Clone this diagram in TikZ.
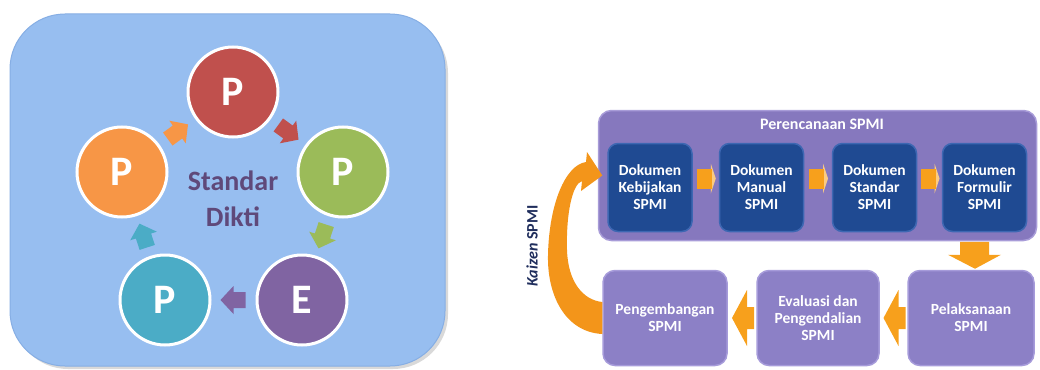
\documentclass[tikz,border=0pt]{standalone}
\usepackage{fontspec}
\setmainfont{Carlito}
\usetikzlibrary{calc}
\definecolor{panelbg}{HTML}{97BEF0}
\definecolor{panelborder}{HTML}{86AEE4}
\definecolor{cred}{HTML}{C0504D}
\definecolor{cgreen}{HTML}{9BBB59}
\definecolor{cpurple}{HTML}{8064A2}
\definecolor{cteal}{HTML}{4BACC6}
\definecolor{corange}{HTML}{F79646}
\definecolor{dikti}{HTML}{5F497A}
\definecolor{planbg}{HTML}{8678BE}
\definecolor{planborder}{HTML}{A89CD8}
\definecolor{docblue}{HTML}{1F4A92}
\definecolor{docborder}{HTML}{3D67B2}
\definecolor{stepbg}{HTML}{8C80C6}
\definecolor{stepborder}{HTML}{A69BDA}
\definecolor{arrorange}{HTML}{F7A01C}
\definecolor{kaizenorange}{HTML}{F3951A}
\definecolor{kaizentext}{HTML}{1F2D5C}
\tikzset{
  pcirc/.style={circle, minimum size=90pt, inner sep=0pt, draw=white, line width=3pt,
    text=white, font=\bfseries\fontsize{42}{42}\selectfont},
  docbox/.style={rectangle, rounded corners=10pt, fill=docblue, draw=docborder, line width=1.5pt,
    minimum width=84pt, minimum height=88pt, inner sep=2pt, text=white, align=center,
    font=\bfseries\fontsize{15.5}{17}\selectfont},
  stepbox/.style={rectangle, rounded corners=12pt, fill=stepbg, draw=stepborder, line width=1.5pt,
    minimum height=95pt, inner sep=2pt, text=white, align=center,
    font=\bfseries\fontsize{15.5}{17}\selectfont},
  outerbox/.style={rectangle, rounded corners=13pt, fill=planbg, draw=planborder, line width=1.5pt,
    minimum width=438pt, minimum height=130pt, inner sep=0pt},
}
\newcommand\cyclearrow[3]{%
  \fill[#1, shift={#2}, rotate=#3] (-12,-8) -- (0,-8) -- (0,-14) -- (13,0) -- (0,14) -- (0,8) -- (-12,8) -- cycle;}
\newcommand\docconn[2]{%
  \fill[arrorange!55, shift={($(#1.east)!0.5!(#2.west)+(0,-9)$)}] (5,-15) -- (10,0) -- (5,15) -- cycle;
  \fill[arrorange, shift={($(#1.east)!0.5!(#2.west)+(0,-9)$)}] (-9,-10) rectangle (6,10);}
\newcommand\leftconn[2]{%
  \fill[arrorange, shift={($(#1.west)!0.5!(#2.east)$)}] (-10,0) -- (5,-28) -- (5,-11) -- (12,-11) -- (12,11) -- (5,11) -- (5,28) -- cycle;}
\begin{document}
\begin{tikzpicture}[x=1pt,y=-1pt]
\useasboundingbox (0,0) rectangle (1040,369);
% ---------- left panel ----------
\fill[black!15, rounded corners=55pt] (13,18) rectangle (448,369);
\draw[fill=panelbg, draw=panelborder, line width=1pt, rounded corners=55pt] (10,14) rectangle (445,366);
\node[pcirc, fill=cred]    (c1) at (233,92)  {P};
\node[pcirc, fill=cgreen]  (c2) at (343,172) {P};
\node[pcirc, fill=cpurple] (c3) at (302,300) {E};
\node[pcirc, fill=cteal]   (c4) at (165,300) {P};
\node[pcirc, fill=corange] (c5) at (122,172) {P};
\node[font=\bfseries\fontsize{28}{36}\selectfont, text=dikti, align=center] (sd) at (233,199) {Standar\\Dikti};
\cyclearrow{corange}{($(c5)!0.5!(c1)$)}{36}
\cyclearrow{cred}{($(c1)!0.5!(c2)$)}{-36}
\cyclearrow{cgreen}{($(c2)!0.5!(c3)$)}{-108}
\cyclearrow{cpurple}{($(c3)!0.5!(c4)$)}{180}
\cyclearrow{cteal}{($(c4)!0.5!(c5)$)}{108}
% ---------- right panel ----------
\node[outerbox] (perenc) at (817.5,175.5) {};
\node[text=white, font=\bfseries\fontsize{16}{16}\selectfont] (ptitle) at (822,124) {Perencanaan SPMI};
\node[docbox] (d1) at (650,187.5)   {Dokumen\\Kebijakan\\SPMI};
\node[docbox] (d2) at (761.5,187.5) {Dokumen\\Manual\\SPMI};
\node[docbox] (d3) at (874.5,187.5) {Dokumen\\Standar\\SPMI};
\node[docbox] (d4) at (984.5,187.5) {Dokumen\\Formulir\\SPMI};
\docconn{d1}{d2}
\docconn{d2}{d3}
\docconn{d3}{d4}
\node[stepbox, minimum width=124pt] (peng) at (665,318) {Pengembangan\\SPMI};
\node[stepbox, minimum width=122pt] (eval) at (818,318) {Evaluasi dan\\Pengendalian\\SPMI};
\node[stepbox, minimum width=126pt] (pel)  at (971,318) {Pelaksanaan\\SPMI};
\leftconn{eval}{peng}
\leftconn{pel}{eval}
% down arrow from Perencanaan to Pelaksanaan
\fill[arrorange, shift={($(pel.north)+(3,-29)$)}] (-14,1) -- (15,1) -- (15,14) -- (27,14) -- (1,28) -- (-26,14) -- (-14,14) -- cycle;
% Kaizen curved arrow
\fill[kaizenorange] ($(peng.west)+(0,16)$) .. controls (565,332) and (547,295) .. (548,255)
  .. controls (549,205) and (565,165) .. (586,162) -- (587,152) -- ($(d1.west)+(-5,-12)$) -- (581,191) -- (582,181)
  .. controls (572,184) and (566,215) .. (567,250) .. controls (568,282) and (583,300) .. ($(peng.west)+(0,-16)$) -- cycle;
\node[rotate=90, text=kaizentext, font=\bfseries\fontsize{16}{16}\selectfont] (kz) at (532,246) {{\itshape Kaizen} SPMI};
\end{tikzpicture}
\end{document}
